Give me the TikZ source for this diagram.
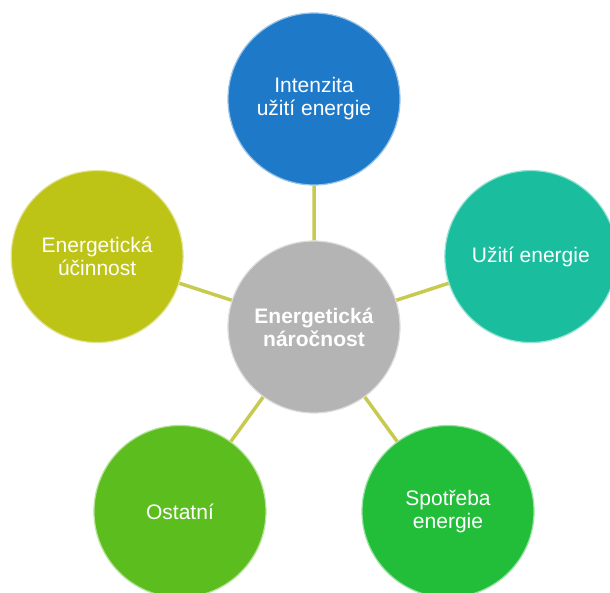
\documentclass[tikz,border=0pt]{standalone}
\usepackage{fontspec}
\setmainfont{Liberation Sans}
\definecolor{ringblue}{RGB}{30,122,200}
\definecolor{ringteal}{RGB}{26,190,158}
\definecolor{ringgreen}{RGB}{34,190,58}
\definecolor{ringlime}{RGB}{92,190,30}
\definecolor{ringolive}{RGB}{190,196,22}
\definecolor{ringgrey}{RGB}{180,180,180}
\definecolor{spoke}{RGB}{200,202,80}
\tikzset{
  bubble/.style={circle, minimum size=172pt, inner sep=0pt, align=center,
    fill=#1, draw=#1!45!white, line width=1.2pt, text=white,
    font=\fontsize{21}{23}\selectfont},
  spoke line/.style={draw=spoke, line width=3.5pt}
}
\begin{document}
\begin{tikzpicture}[x=1pt, y=1pt]
  \useasboundingbox (-314,-265) rectangle (296,327);
  \node[bubble=ringgrey, font=\fontsize{21}{23}\selectfont\bfseries] (centre) at (0,0) {Energetická\\náročnost};
  \node[bubble=ringblue]  (intenzita) at (90:228)   {Intenzita\\užití energie};
  \node[bubble=ringteal]  (uziti)     at (18:228)   {Užití energie};
  \node[bubble=ringgreen] (spotreba)  at (-54:228)  {Spotřeba\\energie};
  \node[bubble=ringlime]  (ostatni)   at (-126:228) {Ostatní};
  \node[bubble=ringolive] (ucinnost)  at (162:228)  {Energetická\\účinnost};
  % spokes
  \draw[spoke line] (centre) -- (intenzita)
    (centre) -- (uziti)
    (centre) -- (spotreba)
    (centre) -- (ostatni)
    (centre) -- (ucinnost);
\end{tikzpicture}
\end{document}
